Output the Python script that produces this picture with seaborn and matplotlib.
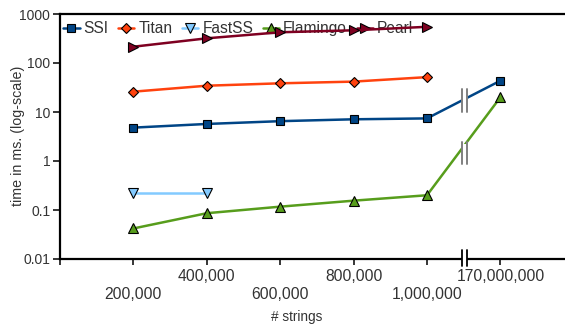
import numpy as np
import pandas as pd
import matplotlib
matplotlib.use("Agg")
import matplotlib.pyplot as plt
import matplotlib.transforms as mtransforms
from matplotlib.patches import Rectangle
import seaborn as sns

# ---- data ----
categories = ["200,000", "400,000", "600,000", "800,000", "1,000,000", "170,000,000"]
ssi = [4.8, 5.7, 6.5, 7.1, 7.4, 43.5]
titan = [26, 34.4, 38.5, 41.7, 51.5, np.nan]
fastss = [0.225, 0.225, np.nan, np.nan, np.nan, np.nan]
flamingo = [0.042, 0.086, 0.117, 0.155, 0.20, 20]
pearl = [215, 319, 424, 465, 548, np.nan]
series_names = ["SSI", "Titan", "FastSS", "Flamingo", "Pearl"]
series_values = [ssi, titan, fastss, flamingo, pearl]
colors = ["#004586", "#ff420e", "#83caff", "#579d1c", "#7e0021"]
markers = ["s", "D", "v", "^", ">"]
msizes = [6, 5, 6.5, 6.5, 6.5]

sns.set_theme(style="ticks")
plt.rcParams["font.family"] = ["Liberation Sans", "DejaVu Sans"]
text_c = "#333333"

fig = plt.figure(figsize=(5.65, 3.29), dpi=100)
ax = fig.add_axes([60 / 565, 70 / 329, 1 - 60 / 565, 245 / 329])

pos = np.arange(1, len(categories) + 1)
for name, vals, c, m, ms in zip(series_names, series_values, colors, markers, msizes):
    df = pd.DataFrame({"pos": pos, "time": vals}).dropna()
    sns.lineplot(data=df, x="pos", y="time", ax=ax, color=c, marker=m,
                 markersize=ms, markeredgecolor="black", markeredgewidth=0.8,
                 linewidth=1.8, label=name, zorder=3)

ax.set_yscale("log")
ax.set_ylim(0.01, 1000)
ax.set_xlim(0, 6.88)
yt = [0.01, 0.1, 1, 10, 100, 1000]
ax.set_yticks(yt)
ax.set_yticklabels(["0.01", "0.1", "1", "10", "100", "1000"])
ax.yaxis.set_minor_locator(matplotlib.ticker.NullLocator())

ax.set_xticks([0, 2, 4, 6])
ax.set_xticklabels(["", categories[1], categories[3], categories[5]])
ax.set_xticks([1, 3, 5], minor=True)
ax.set_xticklabels([categories[0], categories[2], categories[4]], minor=True)

ax.tick_params(axis="y", which="major", length=5, width=1.3, labelsize=10,
               labelcolor=text_c, pad=2)
ax.tick_params(axis="x", which="major", length=4, width=1.3, labelsize=11.3,
               labelcolor=text_c, pad=3)
ax.tick_params(axis="x", which="minor", length=4, width=1.3, labelsize=11.3,
               labelcolor=text_c, pad=16)

for s in ["left", "bottom", "top"]:
    ax.spines[s].set_linewidth(1.6)
    ax.spines[s].set_color("black")
ax.spines["right"].set_visible(False)

ax.set_xlabel("")
ax.set_ylabel("")
fig.text(297 / 565, 1 - 317 / 329, "# strings", ha="center", va="center",
         fontsize=9.8, color=text_c)
fig.text(18 / 565, 1 - 136 / 329, "time in ms. (log-scale)", ha="center",
         va="center", rotation=90, fontsize=10.3, color=text_c)

# ---- break marks ----
b1, b2 = 5.47, 5.545
for (y0, y1) in [(0.60, 0.694), (0.388, 0.478)]:
    ax.axvspan(b1, b2, ymin=y0 + 0.01, ymax=y1 - 0.01, color="white", zorder=4, lw=0)
    for bx in (b1, b2):
        ax.axvline(bx, ymin=y0, ymax=y1, color="#808080", lw=1.4, zorder=5)

trans = mtransforms.blended_transform_factory(ax.transData, ax.transAxes)
ax.add_patch(Rectangle((b1, -0.02), b2 - b1, 0.04, transform=trans,
                       facecolor="white", edgecolor="none", clip_on=False, zorder=6))
for bx in (b1, b2):
    ax.plot([bx, bx], [-0.029, 0.037], transform=trans, color="black", lw=1.3,
            clip_on=False, zorder=7)

leg = ax.legend(loc="center left", bbox_to_anchor=(-0.006, 0.941), ncol=5,
                frameon=False, fontsize=11.2, handlelength=1.05, handletextpad=0.25,
                columnspacing=0.62, borderaxespad=0.0)
leg.set_zorder(1)
for t in leg.get_texts():
    t.set_color(text_c)

fig.savefig("out.png", dpi=100)
